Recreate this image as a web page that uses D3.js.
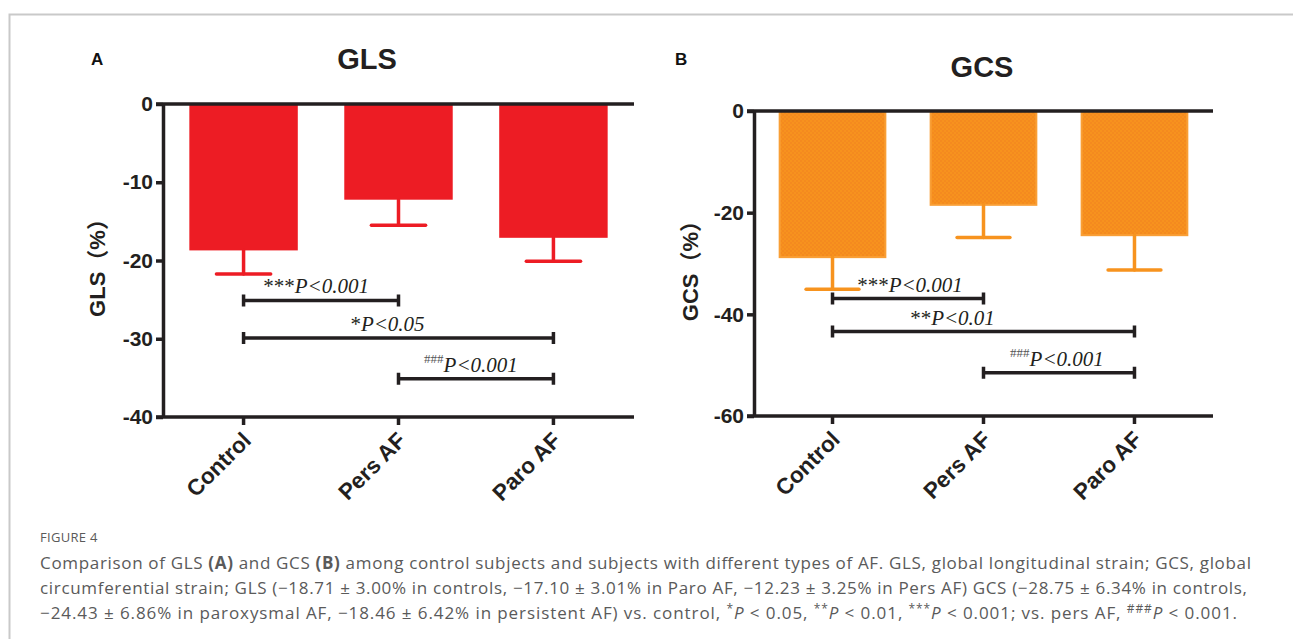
<!DOCTYPE html>
<html>
<head>
<meta charset="utf-8">
<script src="https://cdn.jsdelivr.net/npm/d3@7/dist/d3.min.js"></script>
<style>
  body { margin: 0; background: #fff; }
  svg { display: block; }
  .axis path, .axis line { stroke: #231f20; stroke-width: 3.5; }
  .axis text { font-family: 'Liberation Sans', Arial, sans-serif; font-weight: bold; font-size: 21px; fill: #231f20; }
  .caption { font-family: 'Open Sans', 'Noto Sans', sans-serif; fill: #5a5a5a; }
</style>
</head>
<body>
<script>
'use strict';

// data (means and SD in the caption)
var categories = ['Control', 'Pers AF', 'Paro AF'];

var glsMean = [-18.71, -12.23, -17.10],
    glsSD = [3.00, 3.25, 3.01],
    glsTicks = [0, -10, -20, -30, -40];

var gcsMean = [-28.75, -18.46, -24.43],
    gcsSD = [6.34, 6.42, 6.86],
    gcsTicks = [0, -20, -40, -60];

// comparison brackets: [from, to, level, marks, text]
var glsCompare = [
  ['Control', 'Pers AF', -25.1, '***', 'P<0.001'],
  ['Control', 'Paro AF', -29.9, '*', 'P<0.05'],
  ['Pers AF', 'Paro AF', -35.1, '###', 'P<0.001']
];
var gcsCompare = [
  ['Control', 'Pers AF', -36.9, '***', 'P<0.001'],
  ['Control', 'Paro AF', -43.4, '**', 'P<0.01'],
  ['Pers AF', 'Paro AF', -51.5, '###', 'P<0.001']
];

var WIDTH = 1293,
    HEIGHT = 639;

var svg = d3.select('body').append('svg')
    .attr('width', WIDTH)
    .attr('height', HEIGHT);

// checker texture used by the GCS bars
var defs = svg.append('defs');
var pat = defs.append('pattern')
    .attr('id', 'orangeChecker')
    .attr('width', 4)
    .attr('height', 4)
    .attr('patternUnits', 'userSpaceOnUse');
pat.append('rect').attr('width', 4).attr('height', 4).attr('fill', '#f7921e');
pat.append('rect').attr('width', 2).attr('height', 2).attr('fill', '#f48a1f');
pat.append('rect').attr('x', 2).attr('y', 2).attr('width', 2).attr('height', 2).attr('fill', '#f48a1f');

// frame of the figure box
svg.append('path')
    .attr('d', 'M9.5,' + HEIGHT + 'V14.5H' + WIDTH)
    .attr('fill', 'none')
    .attr('stroke', '#c9c9c9')
    .attr('stroke-width', 2);


/**
 * Draw one bar panel with error bars and comparison brackets.
 */
var drawPanel = function (options) {
  var g,
      x,
      y,
      xAxis,
      bars,
      errs,
      comps,
      capHalf;

  x = d3.scaleBand()
      .domain(categories)
      .range([options.left, options.right])
      .paddingInner(0.3)
      .paddingOuter(0.17);

  y = d3.scaleLinear()
      .domain([0, options.min])
      .range([options.top, options.bottom]);

  g = svg.append('g');

  // panel letter and title
  g.append('text')
      .attr('x', options.letterX)
      .attr('y', 65)
      .style('font-family', "'Liberation Sans', Arial, sans-serif")
      .style('font-weight', 'bold')
      .style('font-size', '17px')
      .style('fill', '#111')
      .text(options.letter);

  g.append('text')
      .attr('x', options.titleX)
      .attr('y', options.titleY)
      .attr('text-anchor', 'middle')
      .style('font-family', "'Liberation Sans', Arial, sans-serif")
      .style('font-weight', 'bold')
      .style('font-size', '29px')
      .style('fill', '#231f20')
      .text(options.title);

  // y axis label
  g.append('text')
      .attr('transform', 'translate(' + options.labelX + ',' +
          ((options.top + options.bottom) / 2 + 2) + ') rotate(-90)')
      .attr('text-anchor', 'middle')
      .style('font-family', "'Liberation Sans', Arial, 'Noto Sans CJK SC', sans-serif")
      .style('font-weight', 'bold')
      .style('font-size', '22px')
      .style('fill', '#231f20')
      .text(options.title + '（%）');

  // bars
  bars = g.append('g');
  bars.selectAll('rect')
      .data(options.mean)
      .enter().append('rect')
      .attr('x', function (d, i) { return x(categories[i]); })
      .attr('y', y(0))
      .attr('width', x.bandwidth())
      .attr('height', function (d) { return y(d) - y(0); })
      .attr('fill', options.fill)
      .attr('stroke', options.stroke)
      .attr('stroke-width', options.stroke === 'none' ? 0 : 2);

  // error bars (mean - SD)
  capHalf = x.bandwidth() * 0.25;
  errs = g.append('g')
      .attr('stroke', options.color)
      .attr('stroke-width', 3.5)
      .attr('stroke-linecap', 'round');
  options.mean.forEach(function (m, i) {
    var cx = x(categories[i]) + x.bandwidth() / 2,
        low = y(m - options.sd[i]);
    errs.append('line')
        .attr('x1', cx).attr('x2', cx)
        .attr('y1', y(m)).attr('y2', low);
    errs.append('line')
        .attr('x1', cx - capHalf).attr('x2', cx + capHalf)
        .attr('y1', low).attr('y2', low);
  });

  // axes (plain hyphen minus, as in the original)
  g.append('g')
      .attr('class', 'axis')
      .attr('transform', 'translate(' + options.left + ',0)')
      .call(d3.axisLeft(y).tickValues(options.ticks).tickSize(7)
          .tickSizeOuter(0).tickPadding(3)
          .tickFormat(function (d) { return String(d); }));

  g.append('line')
      .attr('class', 'zero-line')
      .attr('x1', options.left - 7)
      .attr('x2', options.right)
      .attr('y1', y(0))
      .attr('y2', y(0))
      .attr('stroke', '#231f20')
      .attr('stroke-width', 3.5);

  xAxis = g.append('g')
      .attr('class', 'axis')
      .attr('transform', 'translate(0,' + options.bottom + ')')
      .call(d3.axisBottom(x).tickSize(8).tickSizeOuter(0));
  xAxis.select('.domain').attr('d', 'M' + (options.left - 7) + ',0H' + options.right);
  xAxis.selectAll('text')
      .attr('text-anchor', 'end')
      .attr('dy', null)
      .style('font-size', '22.5px')
      .attr('transform', 'translate(1,17) rotate(-45)');

  // comparison brackets
  comps = g.append('g');
  options.compare.forEach(function (c, i) {
    var x1 = x(c[0]) + x.bandwidth() / 2,
        x2 = x(c[1]) + x.bandwidth() / 2,
        yy = y(c[2]),
        t;
    comps.append('path')
        .attr('d', 'M' + x1 + ',' + (yy - 6) + 'V' + (yy + 6) +
            'M' + x1 + ',' + yy + 'H' + x2 +
            'M' + x2 + ',' + (yy - 6) + 'V' + (yy + 6))
        .attr('fill', 'none')
        .attr('stroke', '#231f20')
        .attr('stroke-width', 3.5);
    t = comps.append('text')
        .attr('x', (x1 + x2) / 2 + options.textDx[i])
        .attr('y', yy - 7)
        .attr('text-anchor', 'middle')
        .style('font-family', "'Liberation Serif', 'Times New Roman', serif")
        .style('font-size', '21px')
        .style('fill', '#231f20');
    if (c[3] === '###') {
      t.append('tspan')
          .attr('dy', -9)
          .style('font-size', '13px')
          .style('fill', '#555')
          .text(c[3]);
      t.append('tspan')
          .attr('dy', 9)
          .style('font-style', 'italic')
          .text(c[4]);
    } else {
      t.append('tspan').text(c[3]);
      t.append('tspan')
          .style('font-style', 'italic')
          .text(c[4]);
    }
  });
};

drawPanel({
  letter: 'A',
  letterX: 91,
  title: 'GLS',
  titleX: 367,
  titleY: 69,
  labelX: 105,
  left: 163,
  right: 634,
  top: 104,
  bottom: 417,
  min: -40,
  ticks: glsTicks,
  mean: glsMean,
  sd: glsSD,
  compare: glsCompare,
  textDx: [-5, -11, -5],
  fill: '#ed1c24',
  stroke: 'none',
  color: '#ed1c24'
});

drawPanel({
  letter: 'B',
  letterX: 675,
  title: 'GCS',
  titleX: 982,
  titleY: 77,
  labelX: 698,
  left: 754,
  right: 1213,
  top: 111,
  bottom: 416,
  min: -60,
  ticks: gcsTicks,
  mean: gcsMean,
  sd: gcsSD,
  compare: gcsCompare,
  textDx: [2, -31, -2],
  fill: 'url(#orangeChecker)',
  stroke: '#f99f36',
  color: '#f7931e'
});

// caption
var cap = svg.append('g').attr('class', 'caption');
cap.append('text')
    .attr('x', 40)
    .attr('y', 542)
    .style('font-size', '13px')
    .style('letter-spacing', '0.3px')
    .text('FIGURE 4');

var line1 = cap.append('text').attr('x', 40).attr('y', 569)
    .attr('textLength', 1211).attr('lengthAdjust', 'spacing')
    .style('font-size', '17px');
line1.append('tspan').text('Comparison of GLS ');
line1.append('tspan').style('font-weight', 'bold').text('(A)');
line1.append('tspan').text(' and GCS ');
line1.append('tspan').style('font-weight', 'bold').text('(B)');
line1.append('tspan').text(' among control subjects and subjects with different types of AF. GLS, global longitudinal strain; GCS, global');

cap.append('text').attr('x', 40).attr('y', 594)
    .attr('textLength', 1207).attr('lengthAdjust', 'spacing')
    .style('font-size', '17px')
    .text('circumferential strain; GLS (\u221218.71 \u00b1 3.00% in controls, \u221217.10 \u00b1 3.01% in Paro AF, \u221212.23 \u00b1 3.25% in Pers AF) GCS (\u221228.75 \u00b1 6.34% in controls,');

var line3 = cap.append('text').attr('x', 40).attr('y', 619)
    .attr('textLength', 1197).attr('lengthAdjust', 'spacing')
    .style('font-size', '17px');
var parts = [
  ['\u221224.43 \u00b1 6.86% in paroxysmal AF, \u221218.46 \u00b1 6.42% in persistent AF) vs. control, ', ''],
  ['*', 'sup'], ['P', 'i'], [' < 0.05, ', ''],
  ['**', 'sup'], ['P', 'i'], [' < 0.01, ', ''],
  ['***', 'sup'], ['P', 'i'], [' < 0.001; vs. pers AF, ', ''],
  ['###', 'sup'], ['P', 'i'], [' < 0.001.', '']
];
parts.forEach(function (p) {
  var ts = line3.append('tspan').text(p[0]);
  if (p[1] === 'sup') {
    ts.attr('dy', -6).style('font-size', '12px');
  } else if (p[1] === 'i') {
    ts.attr('dy', 6).style('font-style', 'italic');
  }
});
</script>
</body>
</html>
